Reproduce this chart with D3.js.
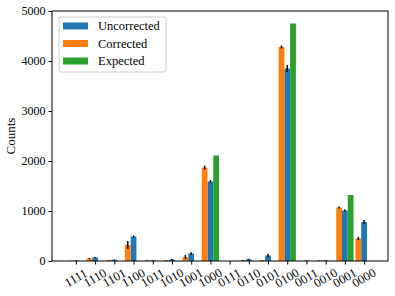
<!DOCTYPE html>
<html>
<head>
<meta charset="utf-8">
<script src="https://cdn.jsdelivr.net/npm/d3@7"></script>
<style>
  body { margin: 0; background: #fff; }
  text { font-family: "Liberation Serif", "DejaVu Serif", serif; }
</style>
</head>
<body>
<svg width="395" height="296"></svg>
<script>
// bit strings along the x axis
var states = ["1111", "1110", "1101", "1100", "1011", "1010", "1001", "1000",
              "0111", "0110", "0101", "0100", "0011", "0010", "0001", "0000"];

var uncorrected    = [8, 70, 25, 490, 10, 30, 150, 1590, 0, 35, 110, 3850, 8, 12, 1010, 780];
var uncorrectedErr = [5, 12, 8, 20, 5, 8, 25, 30, 0, 10, 35, 70, 4, 5, 20, 40];
var corrected      = [2, 50, 10, 320, 10, 10, 80, 1870, 0, 12, 10, 4280, 0, 10, 1070, 450];
var correctedErr   = [3, 10, 6, 80, 4, 6, 40, 40, 0, 8, 6, 30, 0, 5, 20, 30];
var expected       = [0, 0, 0, 0, 0, 0, 0, 2110, 0, 0, 0, 4750, 0, 0, 1320, 0];

var yTicks = [0, 1000, 2000, 3000, 4000, 5000];

var series = [
  {name: "Uncorrected", values: uncorrected, err: uncorrectedErr, offset: 0, color: "#1f77b4"},
  {name: "Corrected", values: corrected, err: correctedErr, offset: -0.3, color: "#ff7f0e"},
  {name: "Expected", values: expected, err: null, offset: 0.3, color: "#2ca02c"}
];

var barWidth = 0.3;

var svg = d3.select("svg"),
    plotLeft = 52, plotRight = 388, plotTop = 11, plotBottom = 261;

var x = d3.scaleLinear().domain([-1.245, 16.245]).range([plotLeft, plotRight]);
var y = d3.scaleLinear().domain([0, 5000]).range([plotBottom, plotTop]);

// bars
series.forEach(function(s) {
  svg.append("g").selectAll("rect")
    .data(s.values)
    .enter().append("rect")
    .attr("x", function(d, i) { return x(i + s.offset - barWidth / 2); })
    .attr("width", x(barWidth) - x(0))
    .attr("y", function(d) { return y(d); })
    .attr("height", function(d) { return y(0) - y(d); })
    .attr("fill", s.color);
});

// error bars (no caps)
series.forEach(function(s) {
  if (!s.err) return;
  var pts = s.values.map(function(v, i) { return {i: i, v: v, e: s.err[i]}; })
    .filter(function(p) { return p.e > 0; });
  svg.append("g").selectAll("line")
    .data(pts)
    .enter().append("line")
    .attr("x1", function(p) { return x(p.i + s.offset); })
    .attr("x2", function(p) { return x(p.i + s.offset); })
    .attr("y1", function(p) { return y(Math.max(0, p.v - p.e)); })
    .attr("y2", function(p) { return y(p.v + p.e); })
    .attr("stroke", "#000")
    .attr("stroke-width", 1.5);
});

// y axis
var yAxis = svg.append("g")
    .attr("transform", "translate(" + plotLeft + ",0)")
    .call(d3.axisLeft(y).tickValues(yTicks).tickSize(3.5).tickPadding(3).tickFormat(d3.format("d")));
yAxis.select(".domain").remove();
yAxis.selectAll("text").attr("font-size", "12px").attr("font-family", "Liberation Serif");

// x axis
var xAxis = svg.append("g")
    .attr("transform", "translate(0," + plotBottom + ")")
    .call(d3.axisBottom(x).tickValues(d3.range(states.length)).tickSize(3.5).tickFormat(function(i) { return states[i]; }));
xAxis.select(".domain").remove();
xAxis.selectAll("text")
    .attr("font-size", "12.5px")
    .attr("font-family", "Liberation Serif")
    .attr("text-anchor", "middle")
    .attr("dy", null)
    .attr("y", null)
    .attr("dominant-baseline", "middle")
    .attr("transform", "translate(0,18) rotate(-30)");

// frame
svg.append("rect")
    .attr("x", plotLeft).attr("y", plotTop)
    .attr("width", plotRight - plotLeft).attr("height", plotBottom - plotTop)
    .attr("fill", "none").attr("stroke", "#000").attr("stroke-width", 1);

// y label
svg.append("text")
    .attr("transform", "translate(15," + (plotTop + plotBottom) / 2 + ") rotate(-90)")
    .attr("text-anchor", "middle")
    .attr("font-size", "13px")
    .text("Counts");

// legend
var legend = svg.append("g").attr("transform", "translate(59,17)");
legend.append("rect")
    .attr("width", 107).attr("height", 55).attr("rx", 2)
    .attr("fill", "#fff").attr("fill-opacity", 0.8)
    .attr("stroke", "#ccc").attr("stroke-width", 1);
var item = legend.selectAll("g.item")
    .data(series)
    .enter().append("g")
    .attr("class", "item")
    .attr("transform", function(d, i) { return "translate(4," + (9 + i * 17.5) + ")"; });
item.append("rect")
    .attr("y", -3.5).attr("width", 25).attr("height", 7)
    .attr("fill", function(d) { return d.color; });
item.append("text")
    .attr("x", 35).attr("dy", "0.35em")
    .attr("font-size", "12.5px")
    .text(function(d) { return d.name; });
</script>
</body>
</html>
